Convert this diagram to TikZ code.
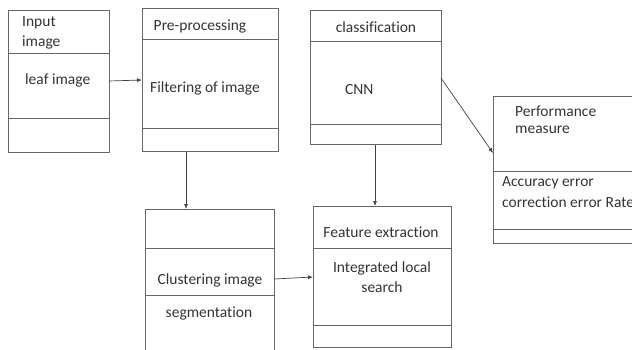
\documentclass[tikz,border=0pt]{standalone}
\usepackage{fontspec}
\setmainfont{Carlito}[Ligatures={NoCommon}]
\usetikzlibrary{arrows.meta}
\begin{document}
\begin{tikzpicture}[x=1pt,y=-1pt,
  box/.style={draw=black!60,line width=0.8pt,fill=none,inner sep=0pt,anchor=north west},
  divider/.style={draw=black!60,line width=0.8pt},
  lbl/.style={inner sep=0pt,text=black!80,font=\fontsize{15.5}{19}\selectfont},
  conn/.style={draw=black!75,line width=0.7pt,-{Latex[length=5pt,width=4pt]}}]
\useasboundingbox (0,0) rectangle (632,349);
\clip (0,0) rectangle (632,349);
% boxes
\node[box,minimum width=101pt,minimum height=142pt] (b1) at (8,10) {};
\node[box,minimum width=136pt,minimum height=143pt] (b2) at (142,8) {};
\node[box,minimum width=131pt,minimum height=134pt] (b3) at (310,10) {};
\node[box,minimum width=160pt,minimum height=147pt] (b4) at (493,96) {};
\node[box,minimum width=129pt,minimum height=160pt] (b5) at (145,209) {};
\node[box,minimum width=138pt,minimum height=141pt] (b6) at (313,206) {};
% dividers
\draw[divider] (8,53) -- (109,53) (8,118) -- (109,118);
\draw[divider] (142,39) -- (278,39) (142,128) -- (278,128);
\draw[divider] (310,41) -- (441,41) (310,124) -- (441,124);
\draw[divider] (493,171) -- (653,171) (493,229) -- (653,229);
\draw[divider] (145,248) -- (274,248) (145,295) -- (274,295);
\draw[divider] (313,248) -- (451,248) (313,325) -- (451,325);
% labels
\node[lbl,anchor=west] (t1a) at (22,23) {Input};
\node[lbl,anchor=west] (t1b) at (22,42) {image};
\node[lbl,anchor=west] (t1c) at (25,80) {leaf image};
\node[lbl] (t2a) at (200,26) {Pre-processing};
\node[lbl,anchor=west] (t2b) at (150,88) {Filtering of image};
\node[lbl] (t3a) at (376,27) {classification};
\node[lbl,anchor=west] (t3b) at (345,90) {CNN};
\node[lbl,anchor=west] (t4a) at (515,111) {Performance};
\node[lbl,anchor=west] (t4b) at (515,130) {measure};
\node[lbl,anchor=west] (t4c) at (502,183) {Accuracy error};
\node[lbl,anchor=west] (t4d) at (502,202) {correction error Rate};
\node[lbl] (t5a) at (210,280) {Clustering image};
\node[lbl] (t5b) at (209,313) {segmentation};
\node[lbl] (t6a) at (381,232) {Feature extraction};
\node[lbl] (t6b) at (382,268) {Integrated local};
\node[lbl] (t6c) at (382,287) {search};
% connectors
\coordinate (a1s) at (109,81); \coordinate (a1e) at (142,80);
\draw[conn] (a1s) -- (a1e);
\draw[conn] (b2.south -| 186,0) -- (b5.north -| 186,0);
\draw[conn] (b3.south -| 375,0) -- (b6.north -| 375,0);
\coordinate (a4s) at (441,78); \coordinate (a4e) at (493,153);
\draw[conn] (a4s) -- (a4e);
\coordinate (a5s) at (274,279); \coordinate (a5e) at (313,277);
\draw[conn] (a5s) -- (a5e);
\end{tikzpicture}
\end{document}
